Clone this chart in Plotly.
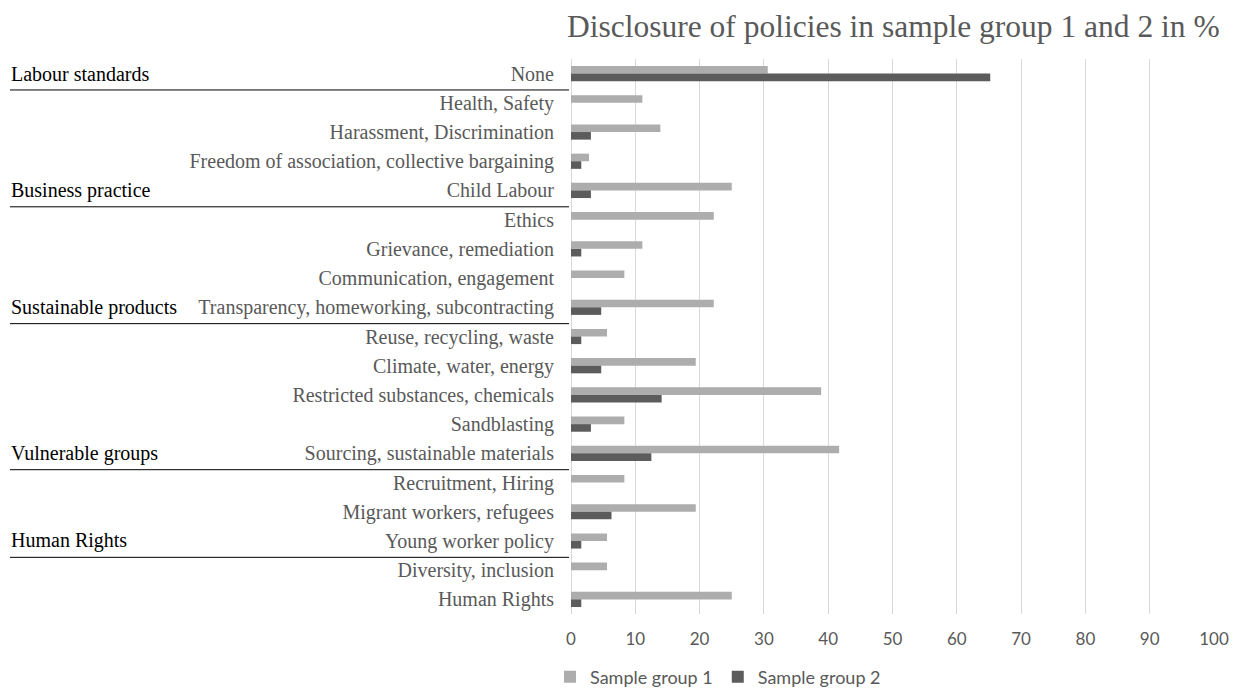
import plotly.graph_objects as go

# Policy categories, top to bottom
categories = [
    "None", "Health, Safety", "Harassment, Discrimination",
    "Freedom of association, collective bargaining", "Child Labour",
    "Ethics", "Grievance, remediation", "Communication, engagement",
    "Transparency, homeworking, subcontracting", "Reuse, recycling, waste",
    "Climate, water, energy", "Restricted substances, chemicals",
    "Sandblasting", "Sourcing, sustainable materials", "Recruitment, Hiring",
    "Migrant workers, refugees", "Young worker policy",
    "Diversity, inclusion", "Human Rights",
]

# Share of companies disclosing each policy (%)
sample_group_1 = [30.6, 11.1, 13.9, 2.8, 25.0, 22.2, 11.1, 8.3, 22.2, 5.6,
                  19.4, 38.9, 8.3, 41.7, 8.3, 19.4, 5.6, 5.6, 25.0]
sample_group_2 = [65.2, 0.0, 3.1, 1.6, 3.1, 0.0, 1.6, 0.0, 4.7, 1.6,
                  4.7, 14.1, 3.1, 12.5, 0.0, 6.3, 1.6, 0.0, 1.6]

# Policy areas: label row and row index under which the separator sits
group_labels = ["Labour standards", "Business practice", "Sustainable products",
                "Vulnerable groups", "Human Rights"]
group_rows = [0, 4, 8, 13, 16]

x_ticks = [0, 10, 20, 30, 40, 50, 60, 70, 80, 90, 100]

W, H = 1238, 688
ML, MR, MT, MB = 571, 24, 59, 74
plot_w = W - ML - MR
plot_h = H - MT - MB


def px_to_paper_x(px):
    return (px - ML) / plot_w


def px_to_paper_y(py):
    return (H - MB - py) / plot_h


fig = go.Figure()
fig.add_trace(go.Bar(
    y=categories, x=sample_group_1, orientation="h", name="Sample group 1",
    marker=dict(color="#adadad", line=dict(width=0)),
))
fig.add_trace(go.Bar(
    y=categories, x=sample_group_2, orientation="h", name="Sample group 2",
    marker=dict(color="#5c5c5c", line=dict(width=0)),
))

shapes = []
annotations = []
for label, row in zip(group_labels, group_rows):
    annotations.append(dict(
        text=label, xref="paper", yref="y", x=px_to_paper_x(9), y=row,
        xanchor="left", yanchor="middle", showarrow=False,
        font=dict(family="Liberation Serif", size=20, color="#000000"),
    ))
    shapes.append(dict(
        type="line", xref="paper", yref="y",
        x0=px_to_paper_x(10), x1=px_to_paper_x(569),
        y0=row + 0.56, y1=row + 0.56,
        line=dict(color="#000000", width=1),
    ))

annotations.append(dict(
    text="Disclosure of policies in sample group 1 and 2 in %",
    xref="paper", yref="paper", x=px_to_paper_x(1222), y=px_to_paper_y(27),
    xanchor="right", yanchor="middle", showarrow=False,
    font=dict(family="Liberation Serif", size=31.5, color="#595959"),
))

fig.update_layout(
    width=W, height=H,
    margin=dict(l=ML, r=MR, t=MT, b=MB),
    paper_bgcolor="white", plot_bgcolor="white",
    barmode="group", bargap=0.48, bargroupgap=0,
    showlegend=True,
    legend=dict(
        orientation="h", x=px_to_paper_x(550), xanchor="left",
        yref="container", y=(H - 677) / H, yanchor="middle",
        font=dict(family="Lato", size=18, color="#595959"),
        itemwidth=30, traceorder="normal",
    ),
    shapes=shapes, annotations=annotations,
)

fig.update_xaxes(
    range=[0, 100], tickvals=x_ticks, showgrid=True, gridcolor="#d9d9d9",
    gridwidth=1, zeroline=True, zerolinecolor="#d9d9d9", zerolinewidth=1,
    showline=False, ticks="", ticklabelstandoff=13, automargin=False,
    tickfont=dict(family="Lato", size=17, color="#595959"),
    fixedrange=True,
)
fig.update_yaxes(
    autorange="reversed", showgrid=False, zeroline=False, showline=False,
    ticks="", ticklabelstandoff=16, automargin=False,
    tickfont=dict(family="Liberation Serif", size=20, color="#595959"),
    fixedrange=True,
)

fig.write_html("out.html", config=dict(displayModeBar=False))
